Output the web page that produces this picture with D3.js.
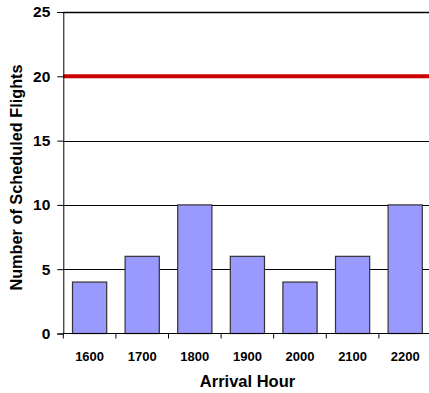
<!DOCTYPE html>
<html>
<head>
<meta charset="utf-8">
<script src="https://cdn.jsdelivr.net/npm/d3@7/dist/d3.min.js"></script>
<style>
  html, body { margin: 0; padding: 0; background: #fff; }
  svg { display: block; font-family: "Liberation Sans", Arial, sans-serif; }
</style>
</head>
<body>
<svg id="chart" width="429" height="393"></svg>
<script>
// Scheduled flights per arrival hour, with the capacity threshold line
const hours = ["1600", "1700", "1800", "1900", "2000", "2100", "2200"];
const flights = [4, 6, 10, 6, 4, 6, 10];
const threshold = 20;
const yTicks = [0, 5, 10, 15, 20, 25];

const svg = d3.select("#chart");
const margin = { left: 63.3, top: 12, bottom: 59.5 };
const plotRight = 431.5;
const height = 393;

const x = d3.scaleBand()
  .domain(hours)
  .range([margin.left, plotRight])
  .paddingInner(0.35)
  .paddingOuter(0.175);

const y = d3.scaleLinear()
  .domain([0, 25])
  .range([height - margin.bottom, margin.top]);

// horizontal gridlines
svg.append("g")
  .selectAll("line")
  .data(yTicks.filter(d => d > 0))
  .join("line")
  .attr("x1", margin.left)
  .attr("x2", plotRight)
  .attr("y1", d => Math.round(y(d)) + 0.5)
  .attr("y2", d => Math.round(y(d)) + 0.5)
  .attr("stroke", "#000")
  .attr("stroke-width", 1);

// bars
svg.append("g")
  .selectAll("rect")
  .data(hours.map((h, i) => ({ h, v: flights[i] })))
  .join("rect")
  .attr("x", d => x(d.h))
  .attr("y", d => y(d.v))
  .attr("width", x.bandwidth())
  .attr("height", d => y(0) - y(d.v))
  .attr("fill", "#9999FF")
  .attr("stroke", "#333")
  .attr("stroke-width", 1.2);

// threshold line
svg.append("line")
  .attr("x1", margin.left)
  .attr("x2", plotRight)
  .attr("y1", y(threshold))
  .attr("y2", y(threshold))
  .attr("stroke", "#CC0000")
  .attr("stroke-width", 4);

// y axis
const yAxis = svg.append("g")
  .attr("transform", `translate(${margin.left},0)`)
  .call(d3.axisLeft(y).tickValues(yTicks).tickSize(6).tickPadding(7));
yAxis.select(".domain").attr("stroke", "#000");
yAxis.selectAll(".tick line").attr("stroke", "#000");
yAxis.selectAll("text")
  .attr("font-size", 15.5)
  .attr("font-weight", "bold")
  .attr("fill", "#000")
  .style("font-family", "'Liberation Sans', Arial, sans-serif");

// x axis with ticks at band boundaries
const xAxisG = svg.append("g")
  .attr("transform", `translate(0,${y(0)})`);
xAxisG.append("line")
  .attr("x1", margin.left)
  .attr("x2", plotRight)
  .attr("stroke", "#000");
const step = x.step();
const boundaries = hours.map((h, i) => margin.left + i * step);
xAxisG.selectAll(".bt")
  .data(boundaries)
  .join("line")
  .attr("class", "bt")
  .attr("x1", d => d)
  .attr("x2", d => d)
  .attr("y1", 0)
  .attr("y2", 5)
  .attr("stroke", "#000");
xAxisG.selectAll("text")
  .data(hours)
  .join("text")
  .attr("x", d => x(d) + x.bandwidth() / 2)
  .attr("y", 27)
  .attr("text-anchor", "middle")
  .attr("font-size", 13)
  .attr("font-weight", "bold")
  .text(d => d);

// top border of plot area
svg.append("line")
  .attr("x1", margin.left)
  .attr("x2", plotRight)
  .attr("y1", margin.top + 0.5)
  .attr("y2", margin.top + 0.5)
  .attr("stroke", "#000")
  .attr("stroke-width", 1.5);

// axis titles
svg.append("text")
  .attr("x", 247.5)
  .attr("y", 386.5)
  .attr("text-anchor", "middle")
  .attr("font-size", 16.5)
  .attr("font-weight", "bold")
  .text("Arrival Hour");

svg.append("text")
  .attr("transform", "translate(22,177.5) rotate(-90)")
  .attr("text-anchor", "middle")
  .attr("font-size", 16.3)
  .attr("font-weight", "bold")
  .text("Number of Scheduled Flights");
</script>
</body>
</html>
